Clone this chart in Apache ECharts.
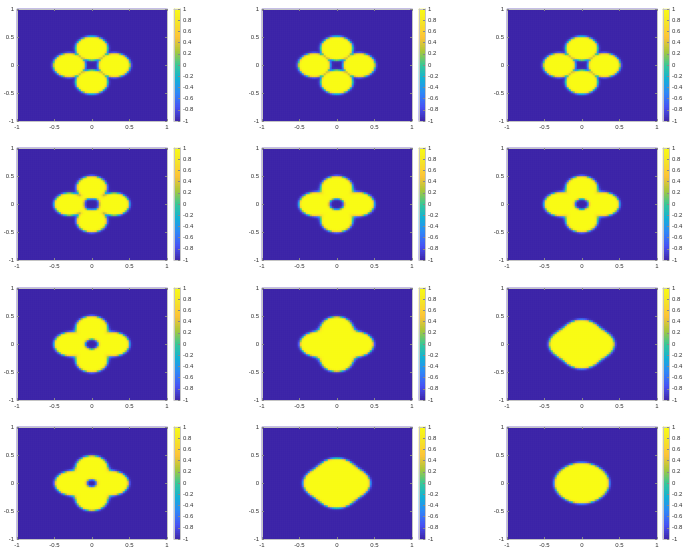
<!DOCTYPE html>
<html>
<head>
<meta charset="utf-8">
<script src="https://cdn.jsdelivr.net/npm/echarts@6.0.0/dist/echarts.min.js"></script>
<style>
  html, body { margin: 0; padding: 0; background: #fff; }
  #chart { width: 687px; height: 549px; }
</style>
</head>
<body>
<div id="chart"></div>
<script>
// axis ticks
const xTicks = [-1, -0.5, 0, 0.5, 1];
const barRange = [-1, 1];

// parula colormap stops
const parula = ["#3e26a8", "#4852f4", "#2e87f7", "#12b1d6", "#37c897", "#abc739", "#fec338", "#f5e328", "#f9fb15"];

// shape (row by row): four lobes on the axes plus an optional core disc,
// blended together, with an optional centre hole
const lobeOffset = [0.30, 0.30, 0.30, 0.30, 0.29, 0.29, 0.29, 0.28, 0.20, 0.28, 0.20, 0.05];
const lobeRadius = [0.213, 0.213, 0.213, 0.20, 0.21, 0.21, 0.21, 0.21, 0.23, 0.21, 0.24, 0.31];
const coreRadius = [0, 0, 0, 0.20, 0.24, 0.25, 0.25, 0.30, 0.30, 0.27, 0.31, 0];
const lobeBlend  = [0.008, 0.009, 0.009, 0.02, 0.03, 0.03, 0.03, 0.04, 0.05, 0.035, 0.05, 0.02];
const holeRadius = [0, 0, 0, 0.10, 0.10, 0.095, 0.09, 0, 0, 0.07, 0, 0];
const holePower  = [2, 2, 2, 3, 2, 2, 2, 2, 2, 2, 2, 2];
const interfaceWidth = 0.018;

const NX = 75, NY = 56, NBAR = 56;

const colLeft = [17, 262, 507];
const barLeft = [174, 419, 663];
const rowTop = [9, 148, 288, 427];
const plotW = 150, plotH = 112, barW = 6;

const font = "'Liberation Sans', Arial, sans-serif";
const lineColor = "#c4c4c4";
const labelColor = "#333";

const fieldAt = (p, x, y) => {
  const c = lobeOffset[p], r = lobeRadius[p], k = lobeBlend[p], h = holeRadius[p], core = coreRadius[p];
  const lobes = [[c, 0], [-c, 0], [0, c], [0, -c]];
  const d = lobes.map(([cx, cy]) => Math.hypot(x - cx, y - cy) - r);
  if (core > 0) d.push(Math.hypot(x, y) - core);
  const m = Math.min(...d);
  let sd = m - k * Math.log(d.reduce((s, v) => s + Math.exp(-(v - m) / k), 0));
  if (h > 0) {
    const q = holePower[p];
    const rho = Math.pow(Math.pow(Math.abs(x), q) + Math.pow(Math.abs(y), q), 1 / q);
    sd = Math.max(sd, h - rho);
  }
  return Math.tanh(-sd / interfaceWidth);
};

const panelData = p => {
  const out = [];
  for (let i = 0; i < NX; i++) {
    for (let j = 0; j < NY; j++) {
      const x = -1 + (i + 0.5) * 2 / NX;
      const y = -1 + (j + 0.5) * 2 / NY;
      out.push([i, j, fieldAt(p, x, y)]);
    }
  }
  return out;
};

const barData = () => {
  const out = [];
  for (let j = 0; j < NBAR; j++) out.push([0, j, barRange[0] + (j + 0.5) * (barRange[1] - barRange[0]) / NBAR]);
  return out;
};

const idx = n => Array.from({ length: n }, (_, i) => i);

const grid = [], xAxis = [], yAxis = [], series = [];

const frameAxis = (gridIndex, position, labels, extra) => ({
  gridIndex,
  type: "value",
  position,
  z: 10,
  axisLine: { show: true, onZero: false, lineStyle: { color: lineColor, width: 1 } },
  axisTick: { show: labels !== null, inside: true, length: 2, lineStyle: { color: "#888" } },
  axisLabel: { show: !!labels, fontSize: 6, color: labelColor, fontFamily: font, margin: 3 },
  splitLine: { show: false },
  ...extra
});

for (let r = 0; r < 4; r++) {
  for (let c = 0; c < 3; c++) {
    const p = r * 3 + c;
    // plot
    const g = grid.length;
    grid.push({ left: colLeft[c], top: rowTop[r], width: plotW, height: plotH });
    const xa = xAxis.length, ya = yAxis.length;
    xAxis.push({ gridIndex: g, type: "category", data: idx(NX), show: false });
    yAxis.push({ gridIndex: g, type: "category", data: idx(NY), show: false });
    xAxis.push(frameAxis(g, "bottom", true, { min: xTicks[0], max: xTicks[4], interval: 0.5 }));
    xAxis.push(frameAxis(g, "top", false, { min: xTicks[0], max: xTicks[4], interval: 0.5 }));
    yAxis.push(frameAxis(g, "left", true, { min: xTicks[0], max: xTicks[4], interval: 0.5 }));
    yAxis.push(frameAxis(g, "right", false, { min: xTicks[0], max: xTicks[4], interval: 0.5 }));
    series.push({
      type: "heatmap", xAxisIndex: xa, yAxisIndex: ya, data: panelData(p),
      progressive: 0, silent: true, emphasis: { disabled: true }
    });
    // colorbar
    const gb = grid.length;
    grid.push({ left: barLeft[c], top: rowTop[r], width: barW, height: plotH });
    const xb = xAxis.length, yb = yAxis.length;
    xAxis.push({ gridIndex: gb, type: "category", data: [0], show: false });
    yAxis.push({ gridIndex: gb, type: "category", data: idx(NBAR), show: false });
    xAxis.push(frameAxis(gb, "bottom", null, { min: 0, max: 1, axisTick: { show: false } }));
    xAxis.push(frameAxis(gb, "top", null, { min: 0, max: 1, axisTick: { show: false } }));
    yAxis.push(frameAxis(gb, "right", true, { min: barRange[0], max: barRange[1], interval: 0.2 }));
    yAxis.push(frameAxis(gb, "left", null, { min: barRange[0], max: barRange[1], axisTick: { show: false } }));
    series.push({
      type: "heatmap", xAxisIndex: xb, yAxisIndex: yb, data: barData(),
      progressive: 0, silent: true, emphasis: { disabled: true }
    });
  }
}

const chart = echarts.init(document.getElementById("chart"), null, { renderer: "canvas" });
chart.setOption({
  animation: false,
  backgroundColor: "#fff",
  textStyle: { fontFamily: font },
  grid,
  xAxis,
  yAxis,
  visualMap: {
    type: "continuous", show: false, min: -1, max: 1, dimension: 2,
    seriesIndex: idx(series.length),
    inRange: { color: parula }
  },
  series
});
</script>
</body>
</html>
